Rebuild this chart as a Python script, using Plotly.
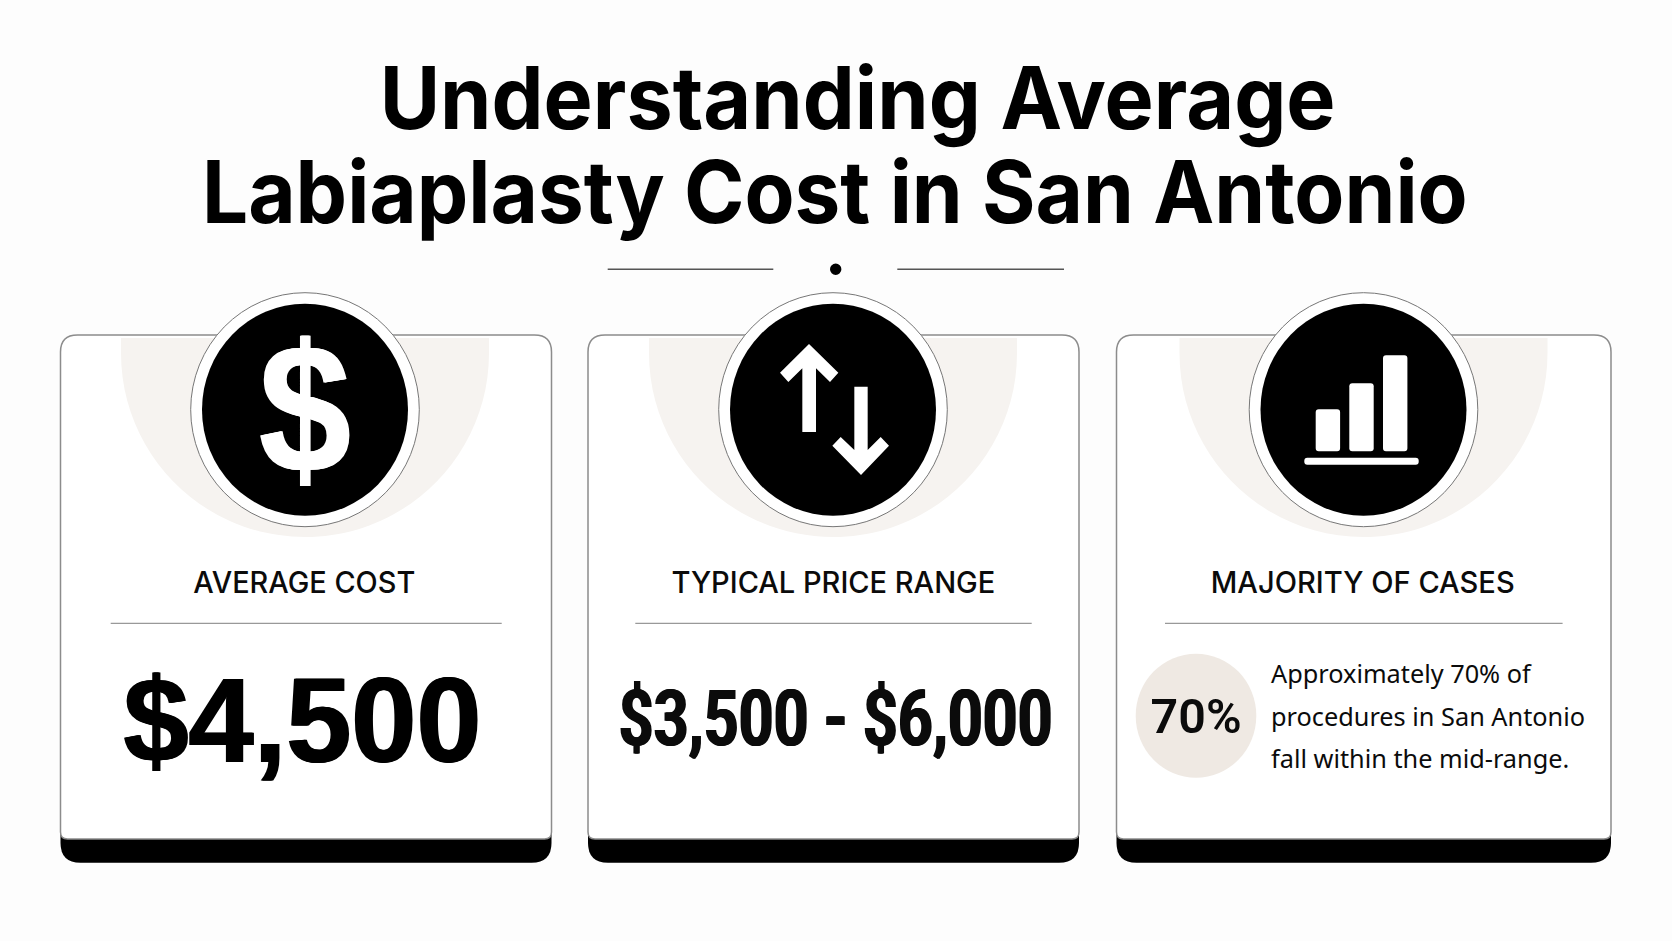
import json
import plotly.graph_objects as go

W, H = 1672, 941

title_lines = ["Understanding Average", "Labiaplasty Cost in San Antonio"]
card_titles = ["AVERAGE COST", "TYPICAL PRICE RANGE", "MAJORITY OF CASES"]
average_cost = "$4,500"
price_range = "$3,500 - $6,000"
majority_share = "70%"
majority_lines = ["Approximately 70% of", "procedures in San Antonio", "fall within the mid-range."]
icon_bar_values = [42, 68, 96]

BLACK = "#000000"
INK = "#0b0b0b"
SAND = "#f6f3f0"
SAND_DARK = "#efe9e3"
GREY = "#8c8c8c"

card_left = [60.5, 588, 1116.5]
card_right = [551.5, 1079, 1611]
card_mid = [305, 833, 1363.5]
rule_left = [110.7, 635.3, 1165]
rule_right = [501.7, 1031.7, 1562.6]
CARD_TOP, BAND_TOP, CARD_BOTTOM = 335, 839, 862.7

# widths measured on the reference, the browser squeezes each text to these
fit_widths = {
    title_lines[0]: 956, title_lines[1]: 1266,
    card_titles[0]: 222, card_titles[1]: 324, card_titles[2]: 304,
    average_cost: 358, price_range: 434, majority_share: 91, "$": 92,
}


def round_rect(x0, y0, x1, y1, r_top, r_bot):
    return (f"M {x0+r_top},{y0} L {x1-r_top},{y0} Q {x1},{y0} {x1},{y0+r_top} "
            f"L {x1},{y1-r_bot} Q {x1},{y1} {x1-r_bot},{y1} L {x0+r_bot},{y1} "
            f"Q {x0},{y1} {x0},{y1-r_bot} L {x0},{y0+r_top} Q {x0},{y0} {x0+r_top},{y0} Z")


def halo(cx, top, r, straight):
    # flat top, short straight sides, then a half circle
    k = 0.5523 * r
    y = top + straight
    return (f"M {cx-r},{top} L {cx+r},{top} L {cx+r},{y} "
            f"C {cx+r},{y+k} {cx+k},{y+r} {cx},{y+r} "
            f"C {cx-k},{y+r} {cx-r},{y+k} {cx-r},{y} Z")


def polygon(points):
    return "M " + " L ".join(f"{x},{y}" for x, y in points) + " Z"


def crop3(points):
    return [(590 + x / 3, 250 + y / 3) for x, y in points]


shapes = []


def add(**kw):
    kw.setdefault("xref", "x")
    kw.setdefault("yref", "y")
    kw.setdefault("layer", "below")
    shapes.append(kw)


def add_circle(cx, cy, r, fill, line=None, rx=None):
    rx = r if rx is None else rx
    add(type="circle", x0=cx - rx, x1=cx + rx, y0=cy - r, y1=cy + r, fillcolor=fill,
        line=dict(color=line, width=1) if line else dict(width=0))


# header rule
add(type="line", x0=607.7, x1=773.3, y0=269.3, y1=269.3, line=dict(color="#555555", width=1.5))
add(type="line", x0=897.3, x1=1064, y0=269.3, y1=269.3, line=dict(color="#555555", width=1.5))
add_circle(835.7, 269.3, 5.7, BLACK)

for i in range(3):
    x0, x1 = card_left[i], card_right[i]
    # black band sits behind the white card face
    add(type="path", path=round_rect(x0, BAND_TOP - 10, x1, CARD_BOTTOM, 1, 20), fillcolor=BLACK, line=dict(width=0))
    add(type="path", path=round_rect(x0, CARD_TOP, x1, BAND_TOP, 17, 7), fillcolor="#ffffff", line=dict(color=GREY, width=1.5))
    add(type="path", path=halo(card_mid[i], 338, 184, 15), fillcolor=SAND, line=dict(width=0))
    add_circle(card_mid[i], 409.7, 117, "#ffffff", line="#777777", rx=114.3)
    add_circle(card_mid[i], 409.7, 106, BLACK, rx=103)
    add(type="line", x0=rule_left[i], x1=rule_right[i], y0=623.3, y1=623.3, line=dict(color="#999999", width=1.3))

# arrows icon
arrow_up = [(657, 282), (745, 368), (720, 396), (678, 355), (678, 546), (637, 546), (637, 355), (595, 396), (570, 368)]
arrow_down = [(793, 410), (833, 410), (833, 600), (872, 561), (897, 587), (813, 675), (727, 587), (752, 561), (793, 600)]
add(type="path", path=polygon(crop3(arrow_up)), fillcolor="#ffffff", line=dict(width=0))
add(type="path", path=polygon(crop3(arrow_down)), fillcolor="#ffffff", line=dict(width=0))

# bars icon baseline and 70% disc
add(type="path", path=round_rect(1304.3, 457.7, 1418.7, 464.7, 3, 3), fillcolor="#ffffff", line=dict(width=0))
add_circle(1196, 715.7, 62, SAND_DARK, rx=60.3)

annotations = []


def label(text, x, y, size, family="Inter", weight=400, color=INK, anchor="center", shadow=None):
    font = dict(family=family, size=size, color=color, weight=weight)
    if shadow:
        font["shadow"] = shadow
    annotations.append(dict(text=text, x=x, y=y, xref="x", yref="y", showarrow=False, xanchor=anchor, yanchor="middle", font=font))


label(title_lines[0], 857, 98, 86, weight=700, color=BLACK)
label(title_lines[1], 835, 192, 86, weight=700, color=BLACK)
for i in range(3):
    label(card_titles[i], [304.5, 833, 1362][i], 581.5, 30, weight=550)
label("$", 304.5, 408.5, 183, family="Liberation Sans", weight=700, color="#ffffff", shadow="1px 0 0 #fff, -1px 0 0 #fff")
label(average_cost, 302.5, 720, 120, family="Liberation Sans", weight=700, color=BLACK, shadow="1px 0 0 #000, -1px 0 0 #000")
label(price_range, 835, 718, 78, family="Roboto", weight=700, color=INK, shadow="1px 0 0 #0b0b0b, -1px 0 0 #0b0b0b")
label(majority_share, 1196, 716, 48, family="Roboto", weight=600)
for line_text, y in zip(majority_lines, [673, 716, 758]):
    label(line_text, 1268.5, y, 25.3, family="Noto Sans", anchor="left")

fig = go.Figure()
fig.add_trace(go.Bar(x=[1327.9, 1361.5, 1395.2], y=[-v for v in icon_bar_values], base=451.3, width=24.4,
                     marker=dict(color="#ffffff", line=dict(width=0)), hoverinfo="skip", showlegend=False))
fig.update_layout(width=W, height=H, margin=dict(l=0, r=0, t=0, b=0), paper_bgcolor="#fdfdfd", plot_bgcolor="#fdfdfd",
                  shapes=shapes, annotations=annotations, barcornerradius=3, showlegend=False,
                  xaxis=dict(range=[0, W], visible=False, fixedrange=True),
                  yaxis=dict(range=[H, 0], visible=False, fixedrange=True))

squeeze = """
document.body.style.margin='0';document.body.style.overflow='hidden';
var fit = %s;
document.querySelectorAll('.annotation-text').forEach(function(t) {
  var target = fit[t.textContent];
  if (!target) return;
  var b = t.getBBox(), s = target / b.width, cx = b.x + b.width / 2;
  t.setAttribute('transform', 'translate(' + cx + ',0) scale(' + s + ',1) translate(' + (-cx) + ',0)');
});
""" % json.dumps(fit_widths)
fig.write_html("out.html", config=dict(displayModeBar=False), post_script=squeeze)
